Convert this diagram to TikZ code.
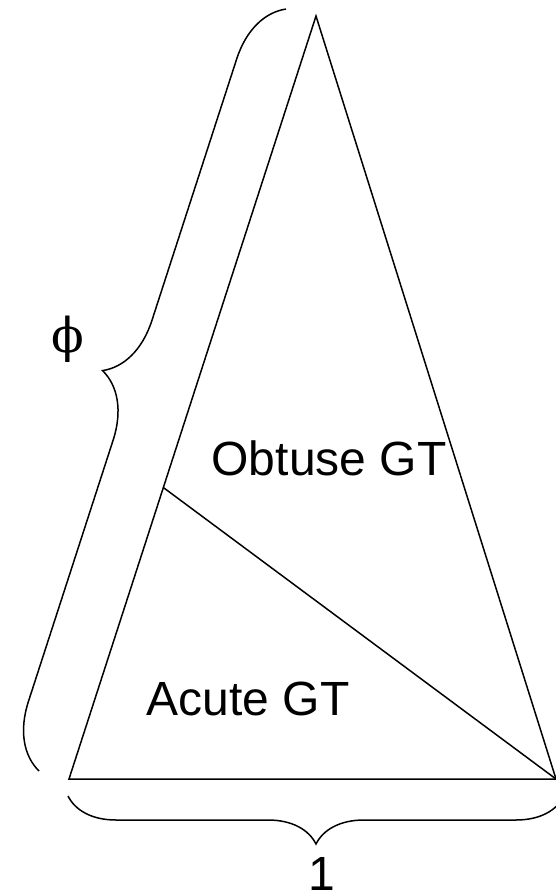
\documentclass[tikz,border=0pt]{standalone}
\usepackage{fontspec}
\setmainfont{Liberation Sans}
\newfontfamily\phifont{DejaVu Serif}
\usetikzlibrary{calc,decorations.pathreplacing}

\begin{document}
\begin{tikzpicture}[x=1pt, y=-1pt,
    line width=1.5pt,
    gtlabel/.style={font=\fontsize{48}{58}\selectfont, inner sep=0pt},
    sidebrace/.style={decorate, decoration={brace, amplitude=63pt}},
    basebrace/.style={decorate, decoration={brace, mirror, amplitude=48pt}}
    ]
    \useasboundingbox (0,0) rectangle (556,892);
    % golden triangle
    \coordinate (apex) at (316,16);
    \coordinate (left) at (69,779);
    \coordinate (right) at (556,779);
    \coordinate (cut) at ($(left)!0.382!(apex)$);
    \draw (apex) -- (left) -- (right) -- cycle;
    \draw (cut) -- (right);
    % braces
    \coordinate (sb1) at (39,771);
    \coordinate (sb2) at (286,9);
    \coordinate (bb1) at (68,796);
    \coordinate (bb2) at (564,796);
    \draw[sidebrace] (sb1) -- (sb2);
    \draw[basebrace] (bb1) -- (bb2);
    % labels
    \node[inner sep=0pt, font=\phifont\fontsize{48}{56}\selectfont] (phi) at (68,339) {ϕ};
    \node[gtlabel, anchor=base] (obtuse) at (329,475) {Obtuse GT};
    \node[gtlabel, anchor=base] (acute) at (248,715) {Acute GT};
    \node[gtlabel, anchor=base] (one) at (322,890) {1};
\end{tikzpicture}
\end{document}
